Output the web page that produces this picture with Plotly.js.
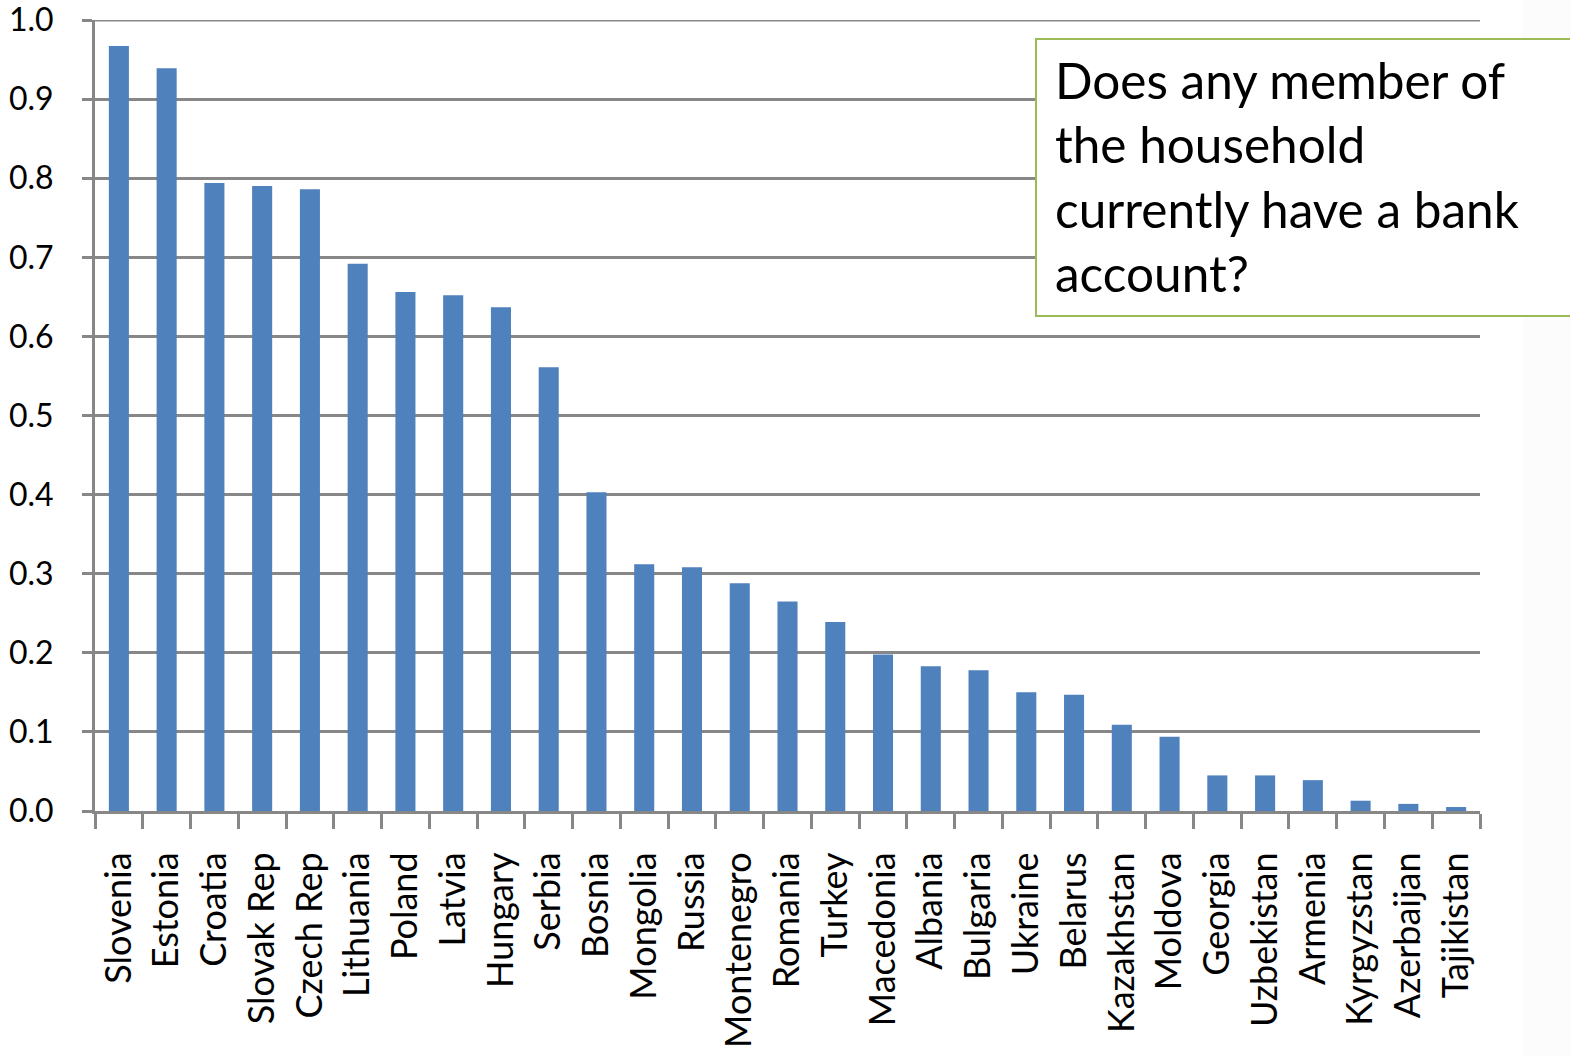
<!DOCTYPE html>
<html>
<head>
<meta charset="utf-8">
<script src="https://cdn.plot.ly/plotly-3.0.1.min.js"></script>
<style>html,body{margin:0;padding:0;background:#fff;}#chart{width:1570px;height:1056px;}</style>
</head>
<body>
<div id="chart"></div>
<script>
const countries = ["Slovenia","Estonia","Croatia","Slovak Rep","Czech Rep","Lithuania","Poland","Latvia","Hungary","Serbia","Bosnia","Mongolia","Russia","Montenegro","Romania","Turkey","Macedonia","Albania","Bulgaria","Ukraine","Belarus","Kazakhstan","Moldova","Georgia","Uzbekistan","Armenia","Kyrgyzstan","Azerbaijan","Tajikistan"];
const shareWithAccount = [0.967,0.939,0.794,0.790,0.786,0.692,0.656,0.652,0.637,0.561,0.403,0.312,0.308,0.288,0.265,0.239,0.198,0.183,0.178,0.150,0.147,0.109,0.094,0.045,0.045,0.039,0.013,0.009,0.005];
const yTickValues = [0,0.1,0.2,0.3,0.4,0.5,0.6,0.7,0.8,0.9,1.0];
const boxLines = ["Does any member of","the household","currently have a bank","account?"];

const gridCol = "#878787";
const data = [{
  type: "bar",
  x: countries,
  y: shareWithAccount,
  marker: {color: "#4F81BD", line: {width: 0}},
  width: 0.42,
  hoverinfo: "x+y"
}];
const layout = {
  width: 1570, height: 1056,
  margin: {l: 95, r: 90, t: 20, b: 245, pad: 0},
  paper_bgcolor: "#ffffff",
  plot_bgcolor: "#ffffff",
  font: {family: "Lato, 'Open Sans', sans-serif", color: "#000000", size: 30},
  showlegend: false,
  bargap: 0.58,
  xaxis: {
    type: "category",
    tickangle: -90,
    tickson: "boundaries",
    ticks: "outside",
    ticklen: 15,
    tickwidth: 3,
    tickcolor: gridCol,
    showline: true,
    linecolor: gridCol,
    linewidth: 3,
    showgrid: false,
    ticklabelstandoff: 24,
    tickfont: {family: "Lato, sans-serif", size: 36, color: "#000"},
    range: [-0.5, countries.length - 0.5],
    fixedrange: true
  },
  yaxis: {
    range: [0, 1.0],
    tickvals: yTickValues,
    tickformat: ".1f",
    ticks: "outside",
    ticklen: 10,
    tickwidth: 3,
    tickcolor: gridCol,
    showline: true,
    linecolor: gridCol,
    linewidth: 3,
    showgrid: true,
    gridcolor: gridCol,
    gridwidth: 3,
    zeroline: false,
    ticklabelstandoff: 22,
    ticklabeloverflow: "allow",
    tickfont: {family: "Lato, sans-serif", size: 32, color: "#000"},
    fixedrange: true
  },
  shapes: [
    {type: "rect", xref: "paper", yref: "paper",
     x0: (1522-95)/1385, x1: (1575-95)/1385, y0: -245/791, y1: 811/791 + 0.03,
     fillcolor: "#fcfcfc", line: {width: 0}, layer: "below"},
    {type: "line", xref: "paper", yref: "y",
     x0: 0, x1: 1, y0: yTickValues[yTickValues.length - 1], y1: yTickValues[yTickValues.length - 1],
     line: {color: gridCol, width: 3}, layer: "above"},
    {type: "rect", xref: "paper", yref: "paper",
     x0: (1036-95)/1385, x1: (1575-95)/1385, y0: (811-316)/791, y1: (811-39)/791,
     fillcolor: "#ffffff", line: {color: "#9BBB59", width: 2}, layer: "above"}
  ],
  annotations: [{
    xref: "paper", yref: "paper",
    x: (1053-95)/1385, y: (811-48)/791,
    xanchor: "left", yanchor: "top", align: "left",
    showarrow: false,
    text: boxLines.join("<br>"),
    font: {family: "Lato, sans-serif", size: 49.5, color: "#000"}
  }]
};
Plotly.newPlot("chart", data, layout, {displayModeBar: false, staticPlot: true});
</script>
</body>
</html>
